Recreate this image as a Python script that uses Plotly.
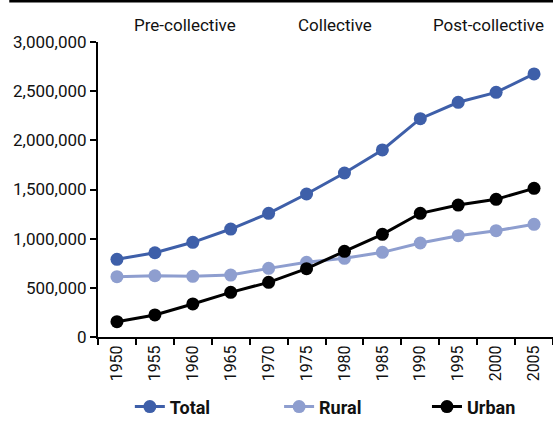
import plotly.graph_objects as go

years = ["1950", "1955", "1960", "1965", "1970", "1975", "1980", "1985", "1990", "1995", "2000", "2005"]
total = [790000, 857000, 963000, 1098000, 1258000, 1454000, 1668000, 1902000, 2220000, 2387000, 2488000, 2675000]
rural = [613000, 623000, 617000, 630000, 698000, 760000, 800000, 861000, 956000, 1030000, 1081000, 1146000]
urban = [156000, 224000, 336000, 454000, 556000, 695000, 871000, 1044000, 1258000, 1342000, 1400000, 1512000]

period_breaks = ["1970", "1990"]
period_labels = ["Pre-collective", "Collective", "Post-collective"]
period_label_pos = [1.8, 5.75, 9.8]

y_ticks = [0, 500000, 1000000, 1500000, 2000000, 2500000, 3000000]

FONT = "Roboto, sans-serif"

series = [
    ("Total", total, "#3E5FA9", "legend", 0.070),
    ("Rural", rural, "#8E9ECF", "legend2", 0.398),
    ("Urban", urban, "#000000", "legend3", 0.723),
]

fig = go.Figure()
legends = {}
for name, vals, col, lg, lx in series:
    fig.add_trace(go.Scatter(
        x=years, y=vals, name="<b>" + name + "</b>", mode="lines+markers",
        line=dict(color=col, width=3),
        marker=dict(color=col, size=13),
        legend=lg,
    ))
    legends[lg] = dict(orientation="h", x=lx, xanchor="left", y=-0.237, yanchor="middle",
                       font=dict(family=FONT, size=18, color="#111111"),
                       itemwidth=30, bgcolor="rgba(0,0,0,0)")

shapes = []
for b in period_breaks:
    shapes.append(dict(type="line", xref="x", yref="paper", x0=b, x1=b, y0=0, y1=1.008,
                       line=dict(color="#C8C8C8", width=2.5), layer="below"))
shapes.append(dict(type="line", xref="paper", yref="paper", x0=-0.195, x1=1.01, y0=1.138, y1=1.138,
                   line=dict(color="black", width=2.5)))

annotations = []
for lab, pos in zip(period_labels, period_label_pos):
    annotations.append(dict(text=lab, x=pos, xref="x", y=1.058, yref="paper", yanchor="middle",
                            showarrow=False, font=dict(family=FONT, size=17, color="#111111")))

fig.update_layout(
    width=553, height=427,
    margin=dict(l=98, r=0, t=42, b=90),
    paper_bgcolor="white", plot_bgcolor="white",
    font=dict(family=FONT, size=16, color="#111111"),
    showlegend=True,
    shapes=shapes,
    annotations=annotations,
    xaxis=dict(type="category", tickson="boundaries", ticks="outside", ticklen=6, tickwidth=2,
               tickcolor="black", showline=True, linecolor="black", linewidth=2, showgrid=False,
               tickangle=-90, tickfont=dict(family=FONT, size=16, color="#111111"),
               range=[-0.5, 11.5], automargin=False),
    yaxis=dict(range=[0, 3000000], tickvals=y_ticks, tickformat=",d", ticks="outside", ticklen=6,
               tickwidth=2, tickcolor="black", showline=True, linecolor="black", linewidth=2,
               showgrid=False, zeroline=False, tickfont=dict(family=FONT, size=17, color="#111111"),
               automargin=False),
    **legends,
)

fig.write_html("out.html", config={"displayModeBar": False},
               post_script="document.body.style.margin='0px';document.body.style.overflow='hidden';")
